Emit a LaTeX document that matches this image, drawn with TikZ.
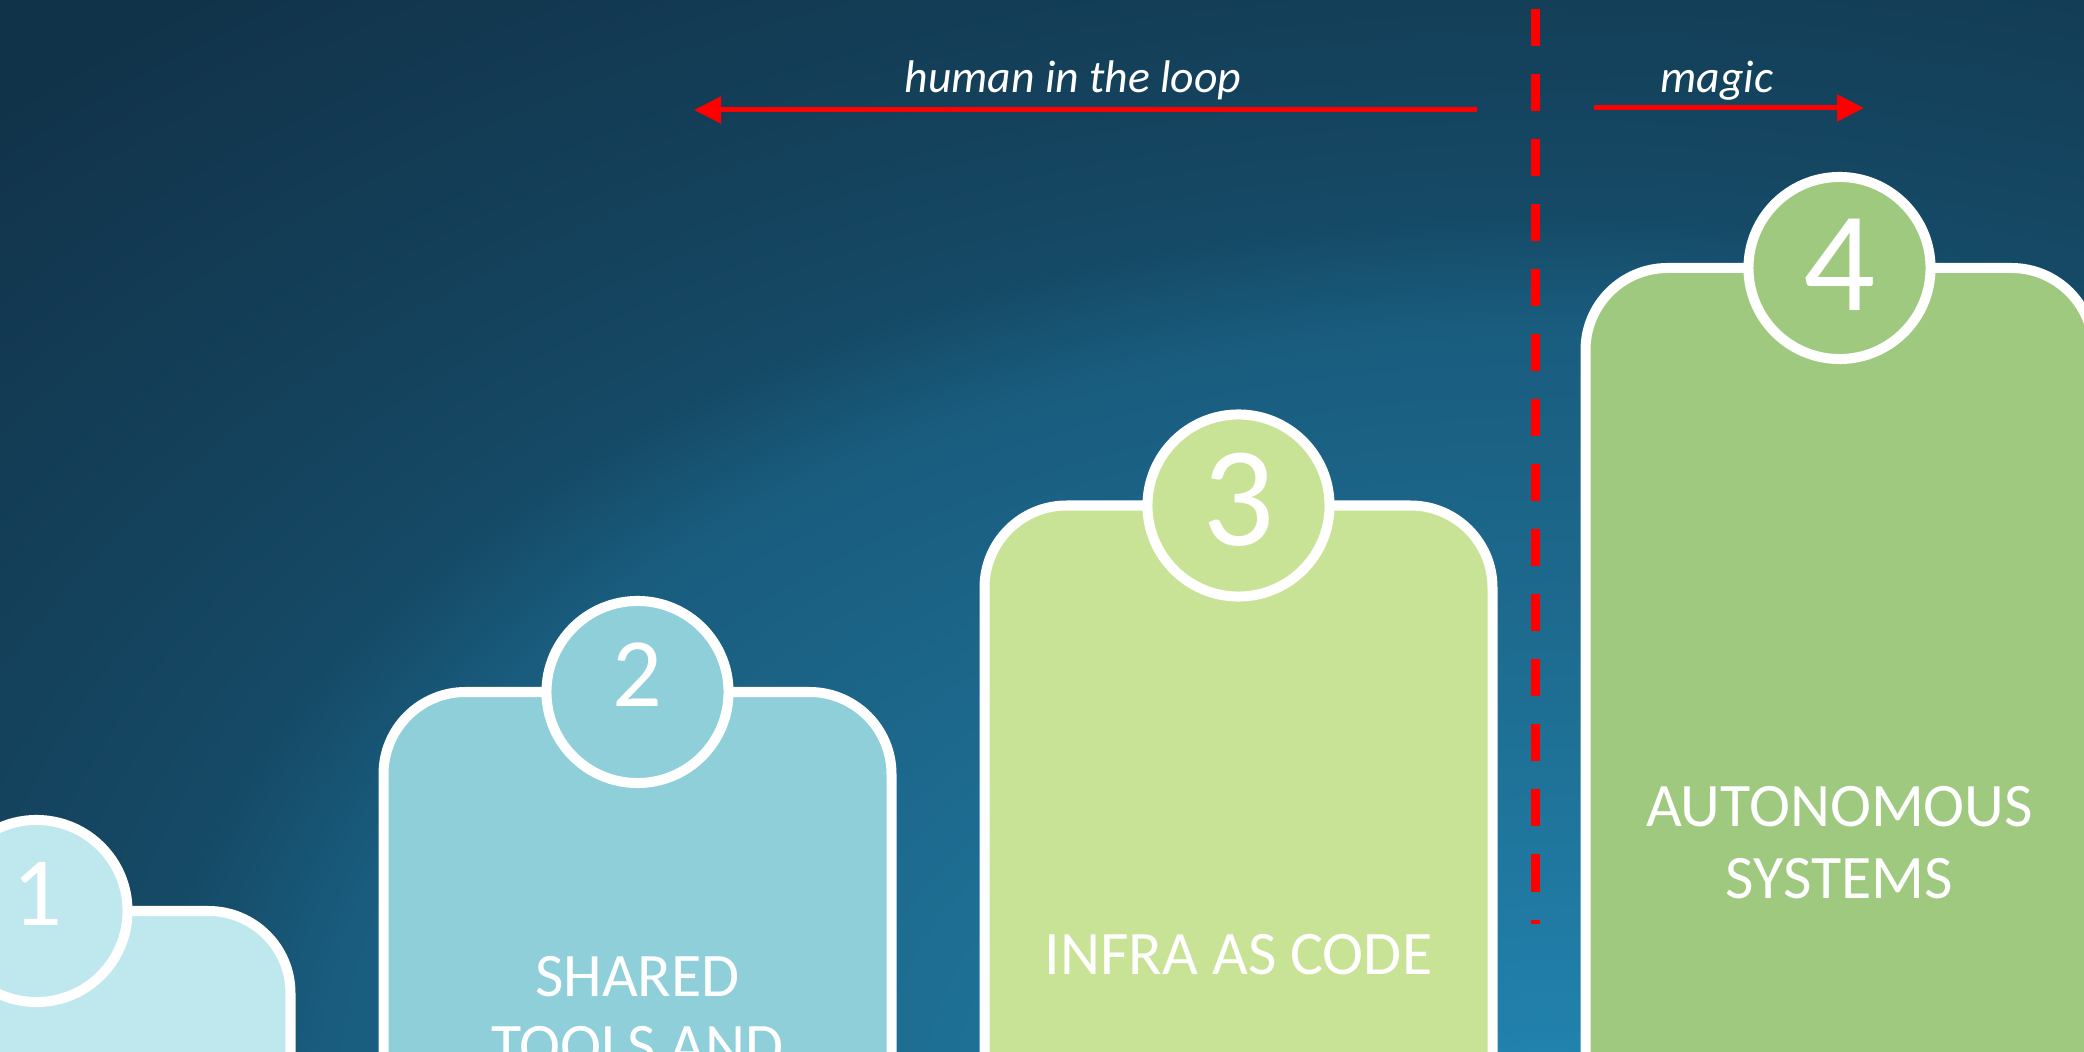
\documentclass[tikz,border=0pt]{standalone}
\usepackage{fontspec}
\setmainfont{Carlito}
\usetikzlibrary{arrows.meta}
\definecolor{bgA}{HTML}{2388B3}
\definecolor{bgB}{HTML}{2180AB}
\definecolor{bgC}{HTML}{1E6F94}
\definecolor{bgD}{HTML}{195C7E}
\definecolor{bgE}{HTML}{154A66}
\definecolor{bgF}{HTML}{14405A}
\definecolor{bgG}{HTML}{11334A}
\definecolor{fillone}{HTML}{BFE7EE}
\definecolor{filltwo}{HTML}{8ECFD9}
\definecolor{fillthree}{HTML}{C9E396}
\definecolor{fillfour}{HTML}{A0C980}
\definecolor{arrowred}{HTML}{FF0000}
\pgfdeclareradialshading{bgshade}{\pgfpoint{0bp}{0bp}}{color(0bp)=(bgA); color(1.3bp)=(bgB); color(6.65bp)=(bgC); color(13.35bp)=(bgD); color(15.25bp)=(bgE); color(18.5bp)=(bgF); color(24bp)=(bgG); color(50bp)=(bgG)}
\begin{document}
\begin{tikzpicture}[x=0.01cm,y=-0.01cm,
  stagebox/.style={draw=white, line width=0.1cm, rounded corners=0.82cm},
  numcircle/.style={circle, draw=white, line width=0.1cm, minimum size=1.82cm, inner sep=0pt},
  digitsmall/.style={text=white, inner sep=0pt, font=\fontsize{27.9pt}{30pt}\selectfont},
  digitbig/.style={text=white, inner sep=0pt, font=\fontsize{40.5pt}{44pt}\selectfont},
  lbl/.style={text=white, inner sep=0pt, anchor=base, font=\fontsize{17.6pt}{20pt}\selectfont},
  ital/.style={text=white, inner sep=0pt, anchor=base, font=\fontsize{13pt}{15pt}\selectfont\itshape},
  redarrow/.style={draw=arrowred, line width=0.05cm, -{Triangle[length=0.27cm,width=0.26cm]}},
  divider/.style={draw=arrowred, line width=0.09cm, dash pattern=on 0.37cm off 0.28cm}]
\useasboundingbox (0,0) rectangle (2084,1052);
\begin{scope}
\clip (0,0) rectangle (2084,1052);
\fill[bgG] (0,0) rectangle (2084,1052);
\shade[shading=bgshade] (1550,1100) ellipse [x radius=23cm, y radius=14.5cm];
% stage 1
\draw[stagebox, fill=fillone] (-217.5,1250) -- (-217.5,911) -- (290.5,911) -- (290.5,1250);
\node[numcircle, fill=fillone] (c1) at (36.5,911) {};
\node[digitsmall] (d1) at (37.5,894) {1};
% stage 2
\draw[stagebox, fill=filltwo] (383.5,1250) -- (383.5,692) -- (891.5,692) -- (891.5,1250);
\node[numcircle, fill=filltwo] (c2) at (637.5,692) {};
\node[digitsmall] (d2) at (637.5,675) {2};
\node[lbl] (l2a) at (637.5,996) {SHARED};
\node[lbl] (l2b) at (637.5,1066) {TOOLS AND};
% stage 3
\draw[stagebox, fill=fillthree] (984.5,1250) -- (984.5,505.5) -- (1492.5,505.5) -- (1492.5,1250);
\node[numcircle, fill=fillthree] (c3) at (1238.5,505.5) {};
\node[digitbig] (d3) at (1238.5,500) {3};
\node[lbl] (l3) at (1238.5,974) {INFRA AS CODE};
% stage 4
\draw[stagebox, fill=fillfour] (1585.5,1250) -- (1585.5,268) -- (2093.5,268) -- (2093.5,1250);
\node[numcircle, fill=fillfour] (c4) at (1839.5,268) {};
\node[digitbig] (d4) at (1839.5,265) {4};
\node[lbl] (l4a) at (1839.5,826) {AUTONOMOUS};
\node[lbl] (l4b) at (1839.5,898) {SYSTEMS};
\end{scope}
% divider
\coordinate (dtop) at (1535,9);
\coordinate (dbot) at (1535,924);
\draw[divider] (dtop) -- (dbot);
% arrows
\coordinate (hs) at (1477,110);
\coordinate (he) at (694,110);
\draw[redarrow] (hs) -- (he);
\coordinate (ms) at (1594,108);
\coordinate (me) at (1864,108);
\draw[redarrow] (ms) -- (me);
\node[ital] (htxt) at (1073,93) {human in the loop};
\node[ital] (mtxt) at (1717,93) {magic};
\end{tikzpicture}
\end{document}
